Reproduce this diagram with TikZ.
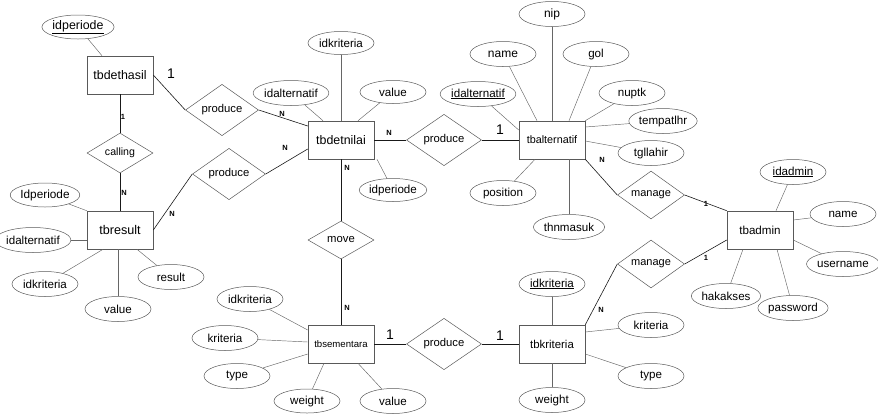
\documentclass[tikz,border=0pt]{standalone}
\usepackage{fontspec}
\setmainfont{Liberation Sans}
\usetikzlibrary{shapes.geometric}
\newcommand{\fs}[1]{\fontsize{#1}{#1}\selectfont}
\begin{document}
\begin{tikzpicture}[x=1pt,y=-1pt,
  ent/.style={rectangle,draw=black!65,line width=0.6pt,minimum width=66pt,minimum height=38pt,inner sep=0pt,font=\fs{12}},
  attr/.style={ellipse,draw=black!65,line width=0.5pt,minimum width=66pt,minimum height=25pt,inner sep=0pt,font=\fs{11.6}},
  rel/.style={diamond,draw=black!65,line width=0.5pt,minimum width=73pt,minimum height=41pt,inner sep=0pt,font=\fs{11.3}},
  al/.style={draw=black!60,line width=0.45pt},
  rl/.style={draw=black!90,line width=0.6pt},
  big/.style={font=\fs{14},inner sep=0pt},
  sm/.style={font=\fontsize{7.5}{8}\bfseries\selectfont,inner sep=0pt}]
\useasboundingbox (0,0) rectangle (878,416);

% entities
\node[ent,font=\fs{12.4}] (dethasil) at (120,75) {tbdethasil};
\node[ent,font=\fs{12.6}] (result) at (120,230) {tbresult};
\node[ent,font=\fs{12.4}] (detnilai) at (341,140) {tbdetnilai};
\node[ent,font=\fs{10.8}] (alternatif) at (552,140) {tbalternatif};
\node[ent,font=\fs{11.6}] (admin) at (760,230) {tbadmin};
\node[ent,font=\fs{11.4}] (kriteria) at (552,344) {tbkriteria};
\node[ent,font=\fs{9.6}] (sementara) at (341,344) {tbsementara};

% relationships
\node[rel] (prod1) at (222,110) {produce};
\node[rel,minimum width=66pt,minimum height=38pt,font=\fs{10.6}] (calling) at (120,153) {calling};
\node[rel] (prod2) at (229,174) {produce};
\node[rel,minimum width=75pt,minimum height=43pt] (prod3) at (444,140) {produce};
\node[rel,minimum width=67pt,minimum height=37pt,font=\fs{11}] (manage1) at (651,195) {manage};
\node[rel,minimum width=67pt,minimum height=37pt,font=\fs{11}] (manage2) at (651,264) {manage};
\node[rel,minimum width=66pt,minimum height=38pt] (move) at (341,240) {move};
\node[rel,minimum width=75pt,minimum height=43pt] (prod4) at (444,344) {produce};

% attributes of tbdethasil
\node[attr,minimum height=24pt,font=\fs{12.4}] (a1) at (78,27) {\underline{idperiode}};
% attributes of tbresult
\node[attr,minimum height=24pt,font=\fs{11.8}] (r1) at (45,195) {Idperiode};
\node[attr] (r2) at (33,240) {idalternatif};
\node[attr] (r3) at (45,284) {idkriteria};
\node[attr] (r4) at (118,309) {value};
\node[attr] (r5) at (171,277) {result};
% attributes of tbdetnilai
\node[attr,minimum height=23pt] (n1) at (341,43) {idkriteria};
\node[attr] (n2) at (291,93) {idalternatif};
\node[attr,minimum height=23pt] (n3) at (393,92) {value};
\node[attr,minimum height=23pt] (n4) at (393,190) {idperiode};
% attributes of tbalternatif
\node[attr,font=\fs{12}] (t1) at (552,14) {nip};
\node[attr,font=\fs{12}] (t2) at (503,54) {name};
\node[attr] (t3) at (596,54) {gol};
\node[attr] (t4) at (478,94) {\underline{idalternatif}};
\node[attr] (t5) at (632,93) {nuptk};
\node[attr] (t6) at (663,121) {tempatlhr};
\node[attr] (t7) at (651,153) {tgllahir};
\node[attr] (t8) at (503,193) {position};
\node[attr] (t9) at (569,227) {thnmasuk};
% attributes of tbadmin
\node[attr] (d1) at (793,172) {\underline{idadmin}};
\node[attr] (d2) at (843,214) {name};
\node[attr] (d3) at (843,264) {username};
\node[attr] (d4) at (726,296) {hakakses};
\node[attr] (d5) at (793,308) {password};
% attributes of tbkriteria
\node[attr] (k1) at (552,284) {\underline{idkriteria}};
\node[attr] (k2) at (552,400) {weight};
\node[attr] (k3) at (651,325) {kriteria};
\node[attr] (k4) at (651,376) {type};
% attributes of tbsementara
\node[attr] (s1) at (250,299) {idkriteria};
\node[attr] (s2) at (225,338) {kriteria};
\node[attr] (s3) at (237,376) {type};
\node[attr,minimum height=24pt] (s4) at (307,401) {weight};
\node[attr] (s5) at (393,401) {value};

% attribute lines
\draw[al] (a1) -- (dethasil.north west -| 102,55);
\draw[al] (r1) -- (result.north west);
\draw[al] (r2) -- (result.west |- r2);
\draw[al] (r3) -- (result.south west -| 103,249);
\draw[al] (r4) -- (result.south -| r4);
\draw[al] (r5) -- (result.south east -| 137,249);
\draw[al] (n1) -- (detnilai);
\draw[al] (n2) -- (detnilai.north west -| 323,121);
\draw[al] (n3) -- (detnilai.north east -| 358,121);
\draw[al] (n4) -- (detnilai.south east -| 377,159);
\draw[al] (t1) -- (alternatif);
\draw[al] (t2) -- (alternatif.north -| 537,121);
\draw[al] (t3) -- (alternatif.north -| 569,121);
\draw[al] (t4) -- (alternatif.west |- 519,130);
\draw[al] (t5) -- (alternatif.north east);
\draw[al] (t6) -- (alternatif.east |- 586,127);
\draw[al] (t7) -- (alternatif.east |- 586,141);
\draw[al] (t8) -- (alternatif.south -| 535,159);
\draw[al] (t9) -- (alternatif.south -| t9);
\draw[al] (d1) -- (admin.north -| 776,211);
\draw[al] (d2) -- (admin.east |- 793,220);
\draw[al] (d3) -- (admin.east |- 793,240);
\draw[al] (d4) -- (admin.south -| 743,249);
\draw[al] (d5) -- (admin.south -| 777,249);
\draw[al] (k1) -- (kriteria);
\draw[al] (k2) -- (kriteria);
\draw[al] (k3) -- (kriteria.east |- 586,332);
\draw[al] (k4) -- (kriteria.east |- 586,354);
\draw[al] (s1) -- (sementara.west |- 307,330);
\draw[al] (s2) -- (sementara.west |- 307,342);
\draw[al] (s3) -- (sementara.west |- 307,354);
\draw[al] (s4) -- (sementara.south -| 324,363);
\draw[al] (s5) -- (sementara.south -| 358,363);

% relationship lines
\draw[rl] (dethasil.east) -- (prod1.west);
\draw[rl] (prod1.east) -- (detnilai.west |- 307,126);
\draw[rl] (result.east) -- (prod2.west);
\draw[rl] (prod2.east) -- (detnilai.west |- 307,149);
\draw[rl] (dethasil.south) -- (calling.north);
\draw[rl] (calling.south) -- (result.north);
\draw[rl] (detnilai.south) -- (move.north);
\draw[rl] (move.south) -- (sementara.north);
\draw[rl] (detnilai.east) -- (prod3.west);
\draw[rl] (prod3.east) -- (alternatif.west);
\draw[rl] (alternatif.south east) -- (manage1.west);
\draw[rl] (manage1.east) -- (admin.north west);
\draw[rl] (manage2.east) -- (admin.west |- 727,240);
\draw[rl] (manage2.west) -- (kriteria.north east);
\draw[rl] (sementara.east) -- (prod4.west);
\draw[rl] (prod4.east) -- (kriteria.west);

% cardinality labels
\node[big] (c1) at (171,74) {1};
\node[sm] (c2) at (123,117) {1};
\node[sm] (c3) at (124,193) {N};
\node[sm] (c4) at (282,114) {N};
\node[sm] (c5) at (285,148) {N};
\node[sm] (c6) at (172,214) {N};
\node[sm] (c7) at (389,133) {N};
\node[big] (c8) at (500,130) {1};
\node[sm] (c9) at (347,168) {N};
\node[sm] (c10) at (347,308) {N};
\node[sm] (c11) at (602,160) {N};
\node[sm] (c12) at (706,204) {1};
\node[sm] (c13) at (706,258) {1};
\node[sm] (c14) at (601,310) {N};
\node[big] (c15) at (390,335) {1};
\node[big] (c16) at (500,336) {1};
\end{tikzpicture}
\end{document}
